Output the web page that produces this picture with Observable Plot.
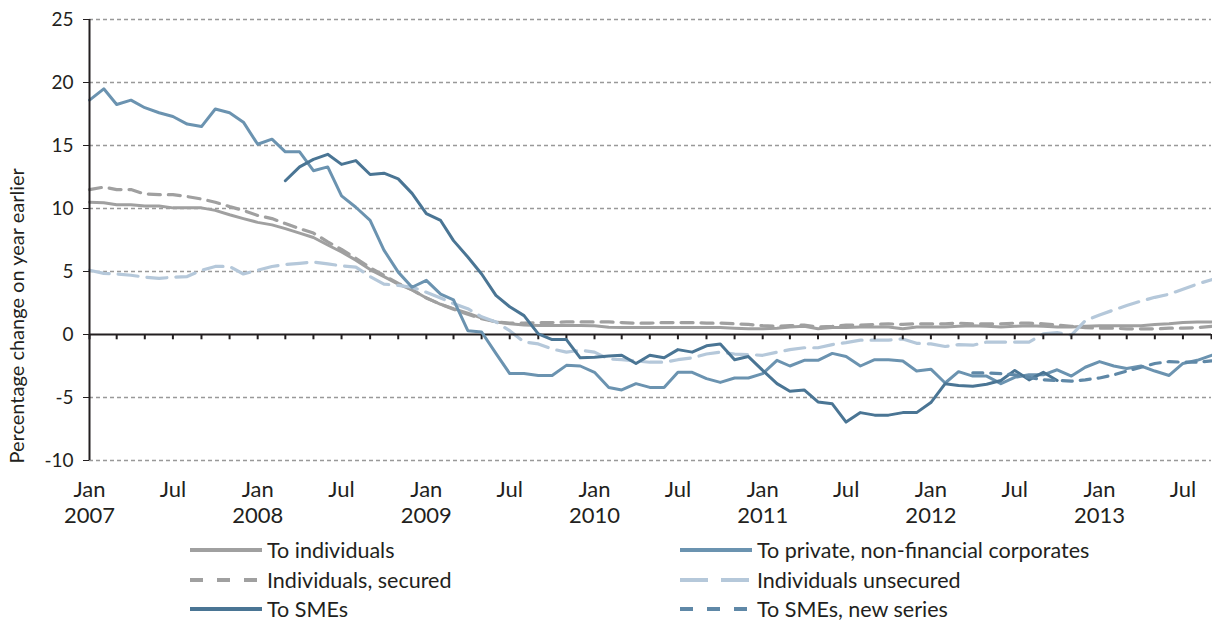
<!DOCTYPE html>
<html>
<head>
<meta charset="utf-8">
<script src="https://cdn.jsdelivr.net/npm/d3@7"></script>
<script src="https://cdn.jsdelivr.net/npm/@observablehq/plot@0.6"></script>
<style>
  html, body { margin:0; padding:0; background:#fff; }
  body { width:1212px; height:623px; overflow:hidden; font-family: Lato, "Open Sans", sans-serif; color:#231f20; }
  #legend { position:relative; width:1212px; height:93px; font-size:21.5px; }
  .item { position:absolute; display:flex; align-items:center; height:26px; }
  .item svg { display:block; margin-right:5px; }
</style>
</head>
<body>
<div id="chart"></div>
<div id="legend"></div>
<script>
// Monthly series, Jan 2007 (index 0) to Sep 2013 (index 80)
const startYear = 2007;
const toIndividuals = [10.5,10.45,10.3,10.3,10.2,10.2,10.05,10.05,10.05,9.85,9.5,9.2,8.9,8.7,8.4,8.05,7.7,7.1,6.55,5.9,5.15,4.6,4.0,3.55,2.9,2.4,2.05,1.7,1.3,1.0,0.85,0.75,0.72,0.72,0.72,0.72,0.7,0.58,0.55,0.55,0.55,0.55,0.55,0.55,0.55,0.55,0.5,0.45,0.45,0.5,0.6,0.65,0.45,0.55,0.55,0.6,0.6,0.6,0.45,0.6,0.6,0.6,0.65,0.7,0.65,0.6,0.65,0.7,0.65,0.6,0.6,0.65,0.7,0.7,0.7,0.7,0.8,0.85,0.95,1.0,1.0];
const individualsSecured = [11.5,11.7,11.5,11.5,11.15,11.1,11.1,10.95,10.75,10.5,10.15,9.85,9.45,9.2,8.8,8.4,8.05,7.35,6.75,6.05,5.3,4.7,4.05,3.55,2.9,2.4,2.0,1.6,1.25,1.0,0.9,0.9,0.95,0.95,1.0,1.0,1.0,1.0,0.95,0.9,0.9,0.95,0.95,0.95,0.9,0.9,0.85,0.8,0.7,0.65,0.7,0.75,0.6,0.65,0.75,0.75,0.8,0.85,0.8,0.85,0.85,0.85,0.9,0.85,0.85,0.85,0.9,0.9,0.85,0.75,0.65,0.55,0.5,0.5,0.45,0.45,0.45,0.5,0.5,0.55,0.65];
const individualsUnsecured = [5.1,4.85,4.8,4.7,4.55,4.45,4.55,4.6,5.1,5.4,5.4,4.8,5.1,5.4,5.55,5.65,5.75,5.6,5.45,5.35,4.6,4.0,3.9,3.75,3.35,2.9,2.45,2.05,1.4,1.0,0.3,-0.6,-0.75,-1.15,-1.4,-1.25,-1.4,-1.95,-2.0,-2.1,-2.2,-2.2,-2.0,-1.85,-1.55,-1.4,-1.55,-1.6,-1.65,-1.4,-1.2,-1.05,-1.05,-0.8,-0.65,-0.45,-0.45,-0.45,-0.35,-0.7,-0.75,-0.95,-0.8,-0.85,-0.6,-0.6,-0.6,-0.6,0.05,0.15,-0.05,1.1,1.55,1.95,2.3,2.65,2.95,3.2,3.6,4.0,4.35];
const toPrivateNFC = [18.6,19.5,18.25,18.6,18.0,17.6,17.3,16.7,16.5,17.9,17.6,16.85,15.1,15.5,14.5,14.5,13.0,13.3,11.0,10.1,9.05,6.7,4.95,3.75,4.3,3.2,2.75,0.3,0.2,-1.5,-3.1,-3.1,-3.25,-3.25,-2.45,-2.5,-3.0,-4.2,-4.4,-3.9,-4.2,-4.2,-3.0,-3.0,-3.5,-3.8,-3.45,-3.45,-3.1,-2.05,-2.5,-2.05,-2.05,-1.5,-1.75,-2.5,-2.0,-2.0,-2.1,-2.9,-2.75,-3.85,-2.95,-3.3,-3.3,-3.9,-3.4,-3.2,-3.2,-2.8,-3.3,-2.6,-2.15,-2.5,-2.7,-2.5,-2.9,-3.25,-2.3,-2.05,-1.65];
// To SMEs: starts Mar 2008 (index 14)
const smeStart = 14;
const toSMEs = [12.2,13.3,13.9,14.3,13.5,13.8,12.7,12.8,12.35,11.2,9.6,9.05,7.45,6.15,4.8,3.1,2.2,1.5,0.05,-0.4,-0.4,-1.85,-1.8,-1.7,-1.65,-2.3,-1.65,-1.85,-1.2,-1.4,-0.9,-0.75,-2.0,-1.75,-2.85,-3.9,-4.5,-4.4,-5.35,-5.5,-6.95,-6.2,-6.4,-6.4,-6.2,-6.2,-5.4,-3.9,-4.05,-4.1,-3.95,-3.65,-2.85,-3.6,-3.0,-3.65];
// To SMEs, new series: starts Apr 2012 (index 63)
const smeNewStart = 63;
const toSMEsNew = [-3.05,-3.05,-3.1,-3.2,-3.4,-3.6,-3.65,-3.7,-3.6,-3.45,-3.2,-2.9,-2.6,-2.3,-2.15,-2.2,-2.2,-2.1];

const yTicks = [-10,-5,0,5,10,15,20,25];
const gridTicks = [-10,-5,5,10,15,20,25];
const monthNames = ["Jan","Feb","Mar","Apr","May","Jun","Jul","Aug","Sep","Oct","Nov","Dec"];
const yTitle = "Percentage change on year earlier";

const dateOf = i => new Date(Date.UTC(startYear, i, 1));
const monthCount = 81;
const xStart = dateOf(0), xEnd = dateOf(monthCount - 1);
const labelDates = d3.range(0, monthCount, 6).map(dateOf);
const minorDates = d3.range(0, monthCount, 2).map(dateOf);

const series = [
  {name:"To individuals", values: toIndividuals, start:0, color:"#a0a0a0", dash:null, width:3},
  {name:"Individuals, secured", values: individualsSecured, start:0, color:"#a0a0a0", dash:"12,8", width:3.2},
  {name:"Individuals unsecured", values: individualsUnsecured, start:0, color:"#b5c8da", dash:"20,9", width:3.2},
  {name:"To private, non-financial corporates", values: toPrivateNFC, start:0, color:"#6b93b0", dash:null, width:3},
  {name:"To SMEs", values: toSMEs, start:smeStart, color:"#4a7594", dash:null, width:3},
  {name:"To SMEs, new series", values: toSMEsNew, start:smeNewStart, color:"#5f88a7", dash:"10,8", width:3.2}
];

const lineMarks = series.map(s =>
  Plot.line(s.values.map((v, i) => ({date: dateOf(s.start + i), value: v})), {
    x: "date", y: "value", stroke: s.color, strokeWidth: s.width,
    strokeDasharray: s.dash || undefined, strokeLinejoin: "round", curve: "linear"
  })
);

const fmtX = d => {
  const m = d.getUTCMonth();
  return m === 0 ? `${monthNames[m]}\n${d.getUTCFullYear()}` : monthNames[m];
};

const chart = Plot.plot({
  width: 1212, height: 530,
  marginLeft: 89, marginRight: 1, marginTop: 19, marginBottom: 70,
  style: {fontFamily: "Lato, 'Open Sans', sans-serif", fontSize: "18px", color: "#231f20", background: "#fff"},
  x: {type: "utc", domain: [xStart, xEnd]},
  y: {domain: [-10, 25]},
  marks: [
    Plot.gridY(gridTicks, {stroke: "#999", strokeOpacity: 1, strokeWidth: 1.5, strokeDasharray: "4,3"}),
    ...lineMarks.slice(0, 3),
    Plot.ruleY([0], {stroke: "#231f20", strokeWidth: 2}),
    Plot.ruleX(minorDates, {x: d => d, y1: 0, y2: -0.42, stroke: "#231f20", strokeWidth: 2}),
    ...lineMarks.slice(3),
    Plot.ruleX([xStart], {stroke: "#231f20", strokeWidth: 2}),
    Plot.axisY({ticks: yTicks, tickSize: 6, tickPadding: 10, tickFormat: d => String(d), fontSize: 19, label: null}),
    Plot.text([yTitle], {text: d => d, frameAnchor: "bottom-left", rotate: -90, textAnchor: "start",
      lineAnchor: "middle", dx: -72, dy: 3, fontSize: 20, fill: "#231f20"}),
    Plot.axisX({ticks: labelDates, tickSize: 0, tickPadding: 19, tickFormat: fmtX, fontSize: 22, lineHeight: 1.15, label: null})
  ]
});
document.getElementById("chart").appendChild(chart);

// Legend
const legend = document.getElementById("legend");
const legendOrder = [
  ["To individuals", 190, 0], ["To private, non-financial corporates", 680, 0],
  ["Individuals, secured", 190, 1], ["Individuals unsecured", 680, 1],
  ["To SMEs", 190, 2], ["To SMEs, new series", 680, 2]
];
const rowTop = [7, 37, 66];
legendOrder.forEach(([name, left, row]) => {
  const s = series.find(t => t.name === name);
  const div = document.createElement("div");
  div.className = "item";
  div.style.left = left + "px";
  div.style.top = rowTop[row] + "px";
  const dash = s.name === "Individuals unsecured" ? "28,13" : (s.dash ? "13,14" : "");
  div.innerHTML = `<svg width="72" height="10"><line x1="0" x2="72" y1="5" y2="5" stroke="${s.color}" stroke-width="4" ${dash ? `stroke-dasharray="${dash}"` : ""}/></svg><span>${name}</span>`;
  legend.appendChild(div);
});
</script>
</body>
</html>
